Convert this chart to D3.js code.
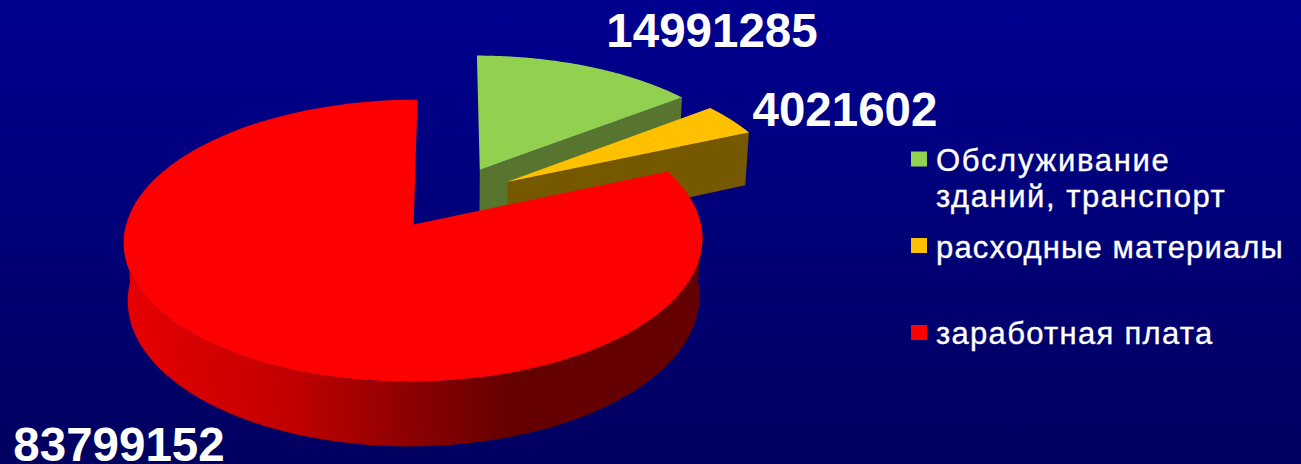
<!DOCTYPE html>
<html>
<head>
<meta charset="utf-8">
<script src="https://cdn.jsdelivr.net/npm/d3@7"></script>
<style>
html, body { margin: 0; padding: 0; background: #000070; }
svg { display: block; }
text { font-family: "Liberation Sans", sans-serif; fill: white; }
</style>
</head>
<body>
<div class="container"></div>
<script>
const categories = ["Обслуживание зданий, транспорт", "расходные материалы", "заработная плата"];
const values = [14991285, 4021602, 83799152];
const legend_lines = [["Обслуживание", "зданий, транспорт"], ["расходные материалы"], ["заработная плата"]];
const top_colors = ["#92d050", "#ffc000", "#ff0000"];
const side_colors = ["#58752f", "#755800", "#ff0000"];

const width = 1301, height = 464;

// pie plane -> screen, with a little perspective towards the back
const center = {x: 451, y: 197.5},
radius = 281,
squash = 133,
persp = 0.1125,
explode = 0.237,
depth = 56;

function project(u, v, drop = 0) {
    const g = 1 / (1 + persp * v);
    const shrink = 1 - 0.012 * drop / depth;
    return [center.x + radius * u * g * shrink, center.y - squash * v * g + drop * g];
}

const svg = d3
.select(".container")
.append("svg")
.attr("width", width)
.attr("height", height);

const defs = svg.append("defs");

defs.append("linearGradient")
    .attr("id", "bg")
    .attr("x1", 0).attr("x2", 0).attr("y1", 0).attr("y2", 1)
    .selectAll("stop")
    .data([["0%", "#000090"], ["100%", "#000060"]])
    .join("stop")
    .attr("offset", d => d[0])
    .attr("stop-color", d => d[1]);

defs.append("linearGradient")
    .attr("id", "red-wall")
    .attr("gradientUnits", "userSpaceOnUse")
    .attr("x1", 122).attr("x2", 700).attr("y1", 0).attr("y2", 0)
    .selectAll("stop")
    .data([["0%", "#e80000"], ["30%", "#c00000"], ["50%", "#8c0000"], ["68%", "#640000"], ["100%", "#640000"]])
    .join("stop")
    .attr("offset", d => d[0])
    .attr("stop-color", d => d[1]);

svg.append("rect")
    .attr("width", width)
    .attr("height", height)
    .attr("fill", "url(#bg)");

const pie = d3.pie().sort(null).startAngle(0).endAngle(2 * Math.PI);
const slices = pie(values);

const line = d3.line();

function rim(d, a0, a1, drop) {
    const mid = (d.startAngle + d.endAngle) / 2;
    const ox = explode * Math.sin(mid), oy = explode * Math.cos(mid);
    return d3.range(0, 121).map(i => {
        const a = a0 + (a1 - a0) * i / 120;
        return project(ox + Math.sin(a), oy + Math.cos(a), drop);
    });
}

function apex(d, drop) {
    const mid = (d.startAngle + d.endAngle) / 2;
    return project(explode * Math.sin(mid), explode * Math.cos(mid), drop);
}

const group = svg.append("g");

slices.forEach((d, i) => {
    // outer wall, only the part facing the viewer
    const a0 = Math.max(d.startAngle, Math.PI / 2), a1 = Math.min(d.endAngle, 3 * Math.PI / 2);
    const wall_fill = i == 2 ? "url(#red-wall)" : side_colors[i];

    if (i < 2) {
        // cut face at the end of the slice
        const e = rim(d, d.endAngle, d.endAngle, 0)[0];
        const e2 = rim(d, d.endAngle, d.endAngle, depth)[0];
        group.append("path")
            .attr("d", line([apex(d, 0), e, e2, apex(d, depth)]) + "Z")
            .attr("fill", wall_fill);
    }
    if (a1 > a0) {
        group.append("path")
            .attr("d", line(rim(d, a0, a1, 0).concat(rim(d, a0, a1, depth).reverse())) + "Z")
            .attr("fill", wall_fill);
    }
    group.append("path")
        .attr("d", line([apex(d, 0)].concat(rim(d, d.startAngle, d.endAngle, 0))) + "Z")
        .attr("fill", top_colors[i]);
});

// value labels
const label_pos = [[712, 47], [845, 126], [119, 461]];
svg.append("g")
    .selectAll("text")
    .data(values)
    .join("text")
    .attr("x", (d, i) => label_pos[i][0])
    .attr("y", (d, i) => label_pos[i][1])
    .attr("text-anchor", "middle")
    .attr("font-weight", "bold")
    .attr("font-size", 47.5)
    .text(d => d);

// legend
const legend_y = [159.5, 246, 333];
const legend_base = [[170.5, 206.5], [258], [344]];
const legend_spacing = [[1.7, 1.55], [1.15], [1.3]];
const legend = svg.append("g")
    .selectAll("g")
    .data(categories)
    .join("g");

legend.append("rect")
    .attr("x", 911)
    .attr("y", (d, i) => legend_y[i] - 8)
    .attr("width", 16)
    .attr("height", 15)
    .attr("fill", (d, i) => top_colors[i]);

legend.selectAll("text")
    .data((d, i) => legend_lines[i].map((t, j) => ({t: t, y: legend_base[i][j], ls: legend_spacing[i][j]})))
    .join("text")
    .attr("x", 936)
    .attr("y", d => d.y)
    .attr("font-size", 31)
    .attr("letter-spacing", d => d.ls)
    .attr("stroke", "white")
    .attr("stroke-width", 0.35)
    .text(d => d.t);
</script>
</body>
</html>
